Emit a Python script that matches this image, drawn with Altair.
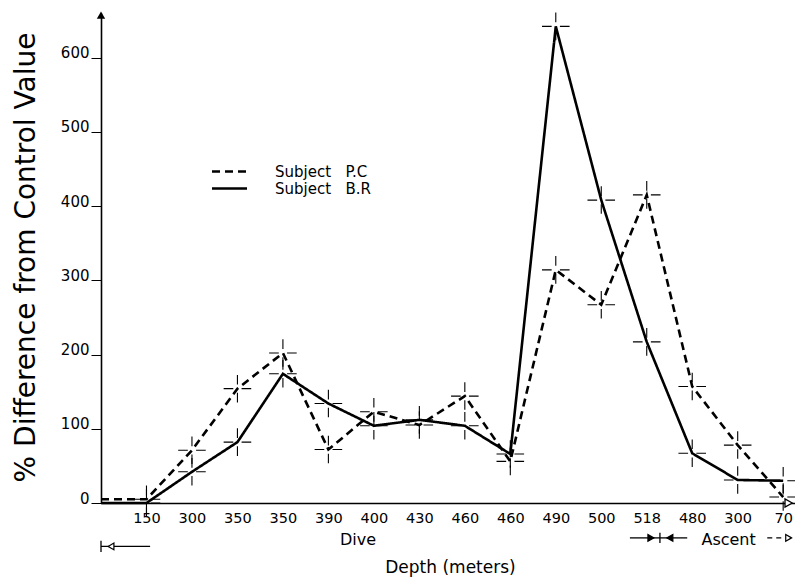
import altair as alt
import pandas as pd

# ---- data ----
depth_labels = ["", "150", "300", "350", "350", "390", "400", "430", "460",
                "460", "490", "500", "518", "480", "300", "70"]
pc_values = [5, 5, 71, 154, 202, 72, 123, 105, 144, 56, 314, 267, 415, 157, 78, 8]
br_values = [0, 0, 42, 82, 174, 134, 104, 112, 104, 66, 642, 408, 217, 67, 31, 30]
series_names = ["Subject\u00a0\u00a0\u00a0P.C", "Subject\u00a0\u00a0\u00a0B.R"]
y_ticks = [0, 100, 200, 300, 400, 500, 600]

FONT = "DejaVu Sans"
X_MAX = 15.26
Y_MAX = 660

rows = []
for i, (a, b) in enumerate(zip(pc_values, br_values)):
    rows.append({"idx": i, "value": a, "series": series_names[0]})
    rows.append({"idx": i, "value": b, "series": series_names[1]})
df = pd.DataFrame(rows)
df_cross = df[df["idx"] >= 1]

label_expr = "[" + ",".join("'%s'" % s for s in depth_labels) + "][datum.value]"

x_scale = alt.Scale(domain=[0, X_MAX], nice=False, zero=False)
y_scale = alt.Scale(domain=[0, Y_MAX], nice=False)

x_enc = alt.X("idx:Q", scale=x_scale,
              axis=alt.Axis(values=list(range(1, 16)), labelExpr=label_expr,
                            ticks=False, grid=False, labelPadding=8,
                            labelFontSize=14.5, labelFont=FONT, labelColor="black",
                            domainColor="black", domainWidth=1.6,
                            title="Depth (meters)", titleFont=FONT, titleFontSize=17,
                            titleFontWeight="normal", titleColor="black",
                            titleX=349, titleY=64, titleBaseline="middle",
                            titleAlign="center", labelFlush=False, labelOverlap=False))
y_enc = alt.Y("value:Q", scale=y_scale,
              axis=alt.Axis(values=y_ticks, grid=False, tickSize=10, tickColor="black",
                            labelPadding=2, labelFontSize=15, labelFont=FONT,
                            labelBaseline="alphabetic",
                            labelColor="black", domainColor="black", domainWidth=1.6,
                            title="% Difference from Control Value", titleFont=FONT,
                            titleFontSize=28, titleFontWeight="normal", titleColor="black",
                            titleAngle=270, titleX=-75, titleY=244,
                            titleAlign="center", titleBaseline="middle"))

lines = alt.Chart(df).mark_line(color="black", strokeWidth=2.6).encode(
    x=x_enc,
    y=y_enc,
    strokeDash=alt.StrokeDash(
        "series:N",
        scale=alt.Scale(domain=series_names, range=[[8, 5], [1, 0]]),
        legend=alt.Legend(title=None, orient="none", legendX=120, legendY=150,
                          symbolType="M-2.5,0H2.5", symbolStrokeColor="black",
                          symbolStrokeWidth=2.6, symbolSize=196,
                          labelFont=FONT, labelFontSize=15, labelColor="black",
                          labelOffset=37, rowPadding=-6, padding=0),
    ),
    detail="series:N",
)

crosses = alt.Chart(df_cross).mark_point(
    shape="M-1,0H-0.3M0.3,0H1M0,-1V-0.3M0,0.3V1",
    size=760, stroke="black", strokeWidth=1.1, filled=False, opacity=1,
).encode(x=alt.X("idx:Q", scale=x_scale), y=alt.Y("value:Q", scale=y_scale))

# axis arrowheads
arrow_df = pd.DataFrame({"x": [0.0], "y": [Y_MAX - 3]})
y_arrow = alt.Chart(arrow_df).mark_point(
    shape="triangle-up", size=70, filled=True, color="black", opacity=1
).encode(x=alt.X("x:Q", scale=x_scale), y=alt.Y("y:Q", scale=y_scale))

xarrow_df = pd.DataFrame({"x": [15.12], "y": [0]})
x_arrow = alt.Chart(xarrow_df).mark_point(
    shape="triangle-right", size=70, filled=True, fill="white", color="black",
    stroke="black", strokeWidth=1.3, opacity=1
).encode(x=alt.X("x:Q", scale=x_scale), y=alt.Y("y:Q", scale=y_scale))

# annotations below the axis
ann_text = pd.DataFrame({"x": [5.65, 13.8], "y": [-50, -50], "t": ["Dive", "Ascent"]})
texts = alt.Chart(ann_text).mark_text(font=FONT, fontSize=16, color="black",
                                      baseline="middle", align="center").encode(
    x=alt.X("x:Q", scale=x_scale), y=alt.Y("y:Q", scale=y_scale), text="t:N")

seg_df = pd.DataFrame({"x": [0.0, 11.63, 12.29], "x2": [1.08, 12.29, 12.89],
                       "y": [-58.5, -47, -47]})
segs = alt.Chart(seg_df).mark_rule(color="black", strokeWidth=1.3).encode(
    x=alt.X("x:Q", scale=x_scale), x2="x2:Q", y=alt.Y("y:Q", scale=y_scale))

dash_df = pd.DataFrame({"x": [14.65], "x2": [15.0], "y": [-47]})
dash = alt.Chart(dash_df).mark_rule(color="black", strokeWidth=1.3, strokeDash=[5, 4]).encode(
    x=alt.X("x:Q", scale=x_scale), x2="x2:Q", y=alt.Y("y:Q", scale=y_scale))

bar_df = pd.DataFrame({"x": [0.0, 12.29], "y": [-51, -40], "y2": [-66, -54]})
bars = alt.Chart(bar_df).mark_rule(color="black", strokeWidth=1.3).encode(
    x=alt.X("x:Q", scale=x_scale), y=alt.Y("y:Q", scale=y_scale), y2="y2:Q")

tri_df = pd.DataFrame({"x": [0.22, 12.09, 12.51, 15.12], "y": [-58.5, -47, -47, -47],
                       "s": ["triangle-left", "triangle-right", "triangle-left", "triangle-right"],
                       "f": ["open", "filled", "filled", "open"]})
tris = alt.Chart(tri_df).mark_point(size=45, strokeWidth=1.2, opacity=1).encode(
    x=alt.X("x:Q", scale=x_scale), y=alt.Y("y:Q", scale=y_scale),
    shape=alt.Shape("s:N", scale=None, legend=None),
    fill=alt.Fill("f:N", scale=alt.Scale(domain=["open", "filled"], range=["white", "black"]),
                  legend=None),
    stroke=alt.value("black"),
)

chart = alt.layer(lines, crosses, y_arrow, x_arrow, texts, segs, dash, bars, tris).properties(
    width=694, height=490,
    autosize=alt.AutoSizeParams(type="none"),
    padding={"left": 93, "top": 5, "right": 0, "bottom": 76},
    background="white",
).configure_view(stroke=None)

chart.save("out.html", embed_options={"renderer": "svg", "actions": False})
